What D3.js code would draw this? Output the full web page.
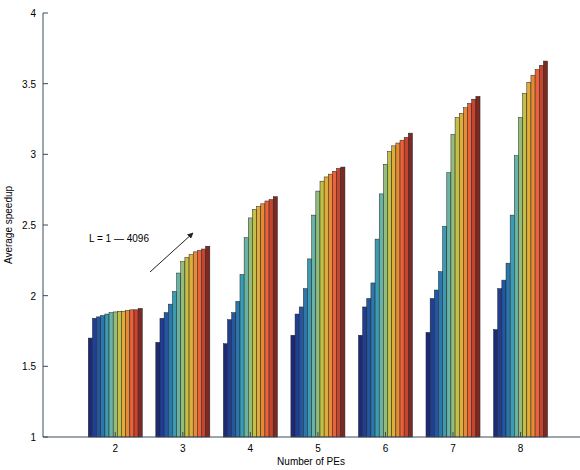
<!DOCTYPE html><html><head><meta charset="utf-8">
<script src="https://cdn.jsdelivr.net/npm/d3@7"></script>
<style>body{margin:0;background:#fff}text{font-family:"Liberation Sans",Arial,sans-serif}</style></head><body>
<svg id="c" width="580" height="470"></svg>
<script>
const pes=[2,3,4,5,6,7,8];
const Ls=[1,2,4,8,16,32,64,128,256,512,1024,2048,4096];
const s2=[1.70,1.84,1.85,1.86,1.87,1.88,1.885,1.89,1.89,1.895,1.90,1.90,1.91];
const s3=[1.67,1.84,1.88,1.94,2.03,2.16,2.24,2.27,2.29,2.31,2.32,2.33,2.35];
const s4=[1.66,1.83,1.88,1.96,2.15,2.41,2.55,2.61,2.63,2.65,2.67,2.68,2.70];
const s5=[1.72,1.87,1.92,2.05,2.26,2.57,2.74,2.81,2.84,2.86,2.88,2.90,2.91];
const s6=[1.72,1.92,1.98,2.09,2.40,2.72,2.93,3.02,3.06,3.08,3.10,3.12,3.15];
const s7=[1.74,1.98,2.04,2.17,2.49,2.87,3.14,3.26,3.29,3.33,3.36,3.39,3.41];
const s8=[1.76,2.05,2.11,2.23,2.57,2.99,3.26,3.43,3.51,3.56,3.60,3.63,3.66];
const values=[s2,s3,s4,s5,s6,s7,s8];
const yTicks=[1,1.5,2,2.5,3,3.5,4];
const colors=["#1c2a78","#1f3f95","#2356a3","#2a78ad","#3b9bb3","#67b3a5","#93bd78","#c4bf45","#e0ad38","#e88a35","#e9623a","#c9442c","#7a2a22"];
const svg=d3.select("#c");
const x=d3.scaleLinear().domain([0.93,8.88]).range([43,580]);
const y=d3.scaleLinear().domain([1,4]).range([437,13]);
const gw=(x(3)-x(2))*0.8;
const xb=d3.scaleBand().domain(d3.range(Ls.length)).range([-gw/2,gw/2]);
pes.forEach((p,gi)=>{
  svg.append("g").selectAll("rect").data(values[gi]).join("rect")
   .attr("x",(d,i)=>x(p)+xb(i)).attr("width",xb.bandwidth())
   .attr("y",d=>y(d)).attr("height",d=>y(1)-y(d))
   .attr("fill",(d,i)=>colors[i]).attr("stroke","#222").attr("stroke-width",0.5);
});
const ax=svg.append("g").attr("stroke","#3a4a5a").attr("fill","none");
ax.append("line").attr("x1",43).attr("x2",43).attr("y1",13).attr("y2",437);
ax.append("line").attr("x1",43).attr("x2",580).attr("y1",437).attr("y2",437);
yTicks.forEach(t=>{
 ax.append("line").attr("x1",43).attr("x2",48).attr("y1",y(t)).attr("y2",y(t));
 svg.append("text").attr("x",36).attr("y",y(t)+4).attr("text-anchor","end").attr("font-size",10).text(t);
});
pes.forEach(p=>{
 ax.append("line").attr("x1",x(p)).attr("x2",x(p)).attr("y1",437).attr("y2",432);
 svg.append("text").attr("x",x(p)).attr("y",452).attr("text-anchor","middle").attr("font-size",10).text(p);
});
svg.append("text").attr("x",311).attr("y",465).attr("text-anchor","middle").attr("font-size",10).text("Number of PEs");
svg.append("text").attr("transform","translate(12,225) rotate(-90)").attr("text-anchor","middle").attr("font-size",10).text("Average speedup");
svg.append("text").attr("x",89).attr("y",242).attr("font-size",10).text("L = 1 \u2014 4096");
svg.append("defs").append("marker").attr("id","ah").attr("viewBox","0 0 10 10").attr("refX",9).attr("refY",5)
 .attr("markerWidth",6).attr("markerHeight",6).attr("orient","auto").append("path").attr("d","M0,0L10,5L0,10z").attr("fill","#222");
svg.append("line").attr("x1",150).attr("y1",272).attr("x2",193).attr("y2",233).attr("stroke","#222").attr("stroke-width",1).attr("marker-end","url(#ah)");
</script></body></html>
